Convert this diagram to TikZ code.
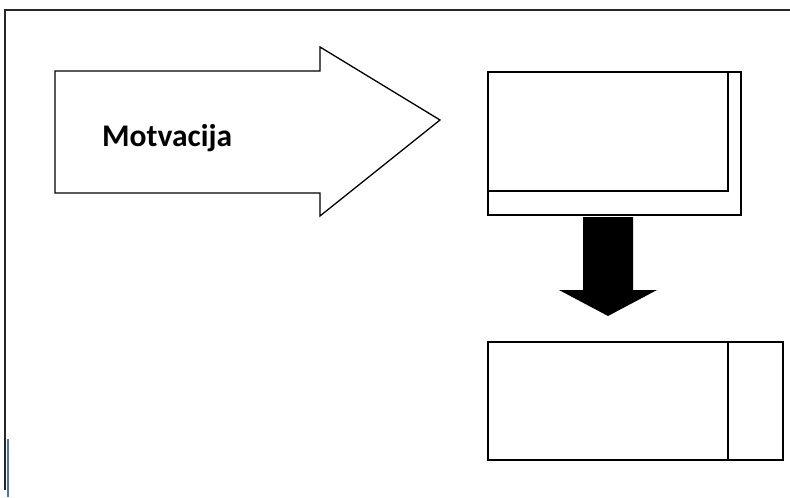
\documentclass[tikz,border=0pt]{standalone}
\usepackage{fontspec}
\setmainfont{Carlito}
\begin{document}
\begin{tikzpicture}[x=1pt,y=-1pt,
  frameline/.style={draw=black!85,line width=1.8pt},
  boxline/.style={draw=black,line width=2pt},
  thinline/.style={draw=black,line width=1.3pt},
  label/.style={font=\fontsize{31.5}{38}\selectfont\bfseries,anchor=base west,inner sep=0pt}]
\useasboundingbox (0,0) rectangle (790,498);
\fill[white] (0,0) rectangle (790,498);
% frame
\draw[frameline] (5,490) -- (5,10) -- (790,10);
\draw[draw={rgb,255:red,68;green,114;blue,196},line width=2pt] (8,439) -- (8,497);
% big right arrow
\draw[thinline,line join=miter] (55,71) -- (320,71) -- (320,47) -- (440,120) -- (320,216) -- (320,193) -- (55,193) -- cycle;
\node[label] (motv) at (102,146) {Motvacija};
% top box
\coordinate (tl) at (488,72);
\draw[thinline] (tl) rectangle (741,215);
\draw[boxline] (tl) rectangle (728,191);
% down arrow
\fill[black] (583,217) -- (633,217) -- (633,290) -- (657,290) -- (608,316) -- (559,290) -- (583,290) -- cycle;
% bottom box
\coordinate (bl) at (488,342);
\draw[boxline] (bl) rectangle (783,460);
\draw[boxline] (728,342) -- (728,460);
\end{tikzpicture}
\end{document}
